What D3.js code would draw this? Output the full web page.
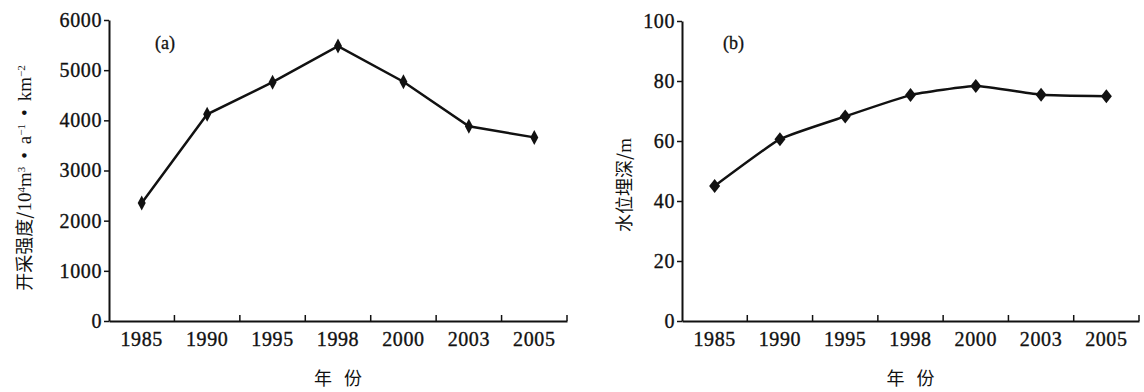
<!DOCTYPE html>
<html>
<head>
<meta charset="utf-8">
<script src="https://cdn.jsdelivr.net/npm/d3@7"></script>
<style>
  body { margin: 0; background: #fff; }
</style>
</head>
<body>
<svg id="chart" width="1144" height="392"></svg>
<script>
// data
var years = ["1985", "1990", "1995", "1998", "2000", "2003", "2005"];
var intensity = [2350, 4120, 4760, 5480, 4770, 3880, 3660];   // 开采强度
var depth = [45, 60.6, 68.2, 75.3, 78.3, 75.4, 74.9];          // 水位埋深
var intensityTicks = [0, 1000, 2000, 3000, 4000, 5000, 6000];
var depthTicks = [0, 20, 40, 60, 80, 100];

var svg = d3.select("#chart");
var serif = '"Liberation Serif", "DejaVu Serif", serif';
var cjk = '"Noto Sans CJK SC", sans-serif';

function styleNums(sel) {
    sel.attr("fill", "#111")
        .attr("stroke", "#111")
        .attr("stroke-width", 0.35)
        .style("font-size", "20px")
        .style("letter-spacing", "0.6px")
        .style("font-family", serif);
}

function drawPanel(p) {
    var x = d3.scaleBand().domain(years).range([p.left, p.right]);
    var y = d3.scaleLinear().domain([0, p.max]).range([p.bottom, p.top]);
    var g = svg.append("g");

    // y axis
    var yAxis = g.append("g")
        .attr("transform", "translate(" + p.left + ",0)")
        .call(d3.axisLeft(y).tickValues(p.ticks).tickFormat(d3.format("d"))
            .tickSize(5).tickPadding(2).tickSizeOuter(0));
    yAxis.select(".domain").attr("stroke", "#111").attr("stroke-width", 2);
    yAxis.selectAll(".tick line").attr("stroke", "#111").attr("stroke-width", 1.5);
    styleNums(yAxis.selectAll(".tick text"));

    // x axis: labels centred on bands, ticks at band edges pointing up
    var xAxis = g.append("g")
        .attr("transform", "translate(0," + p.bottom + ")")
        .call(d3.axisBottom(x).tickSize(0).tickPadding(11));
    xAxis.select(".domain").attr("stroke", "#111").attr("stroke-width", 2);
    styleNums(xAxis.selectAll(".tick text"));
    xAxis.selectAll("line.edge")
        .data(years).enter()
        .append("line")
        .attr("class", "edge")
        .attr("x1", function(d) { return x(d) + x.bandwidth(); })
        .attr("x2", function(d) { return x(d) + x.bandwidth(); })
        .attr("y1", 0)
        .attr("y2", -6)
        .attr("stroke", "#111")
        .attr("stroke-width", 1.5);

    // line
    var line = d3.line()
        .x(function(d, i) { return x(years[i]) + x.bandwidth() / 2; })
        .y(function(d) { return y(d); })
        .curve(p.curve);
    g.append("path")
        .datum(p.values)
        .attr("d", line)
        .attr("fill", "none")
        .attr("stroke", "#111")
        .attr("stroke-width", 2.5);

    // diamond markers
    var w = p.markW, h = p.markH;
    g.selectAll("path.mark")
        .data(p.values).enter()
        .append("path")
        .attr("class", "mark")
        .attr("d", "M0," + (-h) + "L" + w + ",0L0," + h + "L" + (-w) + ",0Z")
        .attr("transform", function(d, i) {
            return "translate(" + (x(years[i]) + x.bandwidth() / 2) + "," + y(d) + ")";
        })
        .attr("fill", "#111");

    // panel tag
    g.append("text")
        .attr("x", p.tagX)
        .attr("y", 49)
        .style("font-family", serif)
        .style("font-size", "18px")
        .attr("fill", "#111")
        .attr("stroke", "#111")
        .attr("stroke-width", 0.3)
        .text(p.tag);

    // x title
    g.append("text")
        .attr("x", (p.left + p.right) / 2 + 6)
        .attr("y", 385)
        .attr("text-anchor", "middle")
        .style("font-family", cjk)
        .style("font-size", "18px")
        .style("letter-spacing", "12px")
        .attr("fill", "#111")
        .text("年份");

    // y title
    var yt = g.append("text")
        .attr("transform", "translate(" + p.titleX + "," + p.titleY + ") rotate(-90)")
        .attr("text-anchor", "middle")
        .style("font-family", cjk)
        .style("font-size", "18px")
        .attr("fill", "#111");
    p.title.forEach(function(part) {
        var t = yt.append("tspan").text(part.t);
        if (part.serif) t.style("font-family", serif).style("font-size", "19px");
        if (part.sup) t.attr("baseline-shift", "super").style("font-size", "11px");
        if (part.dx) t.attr("dx", part.dx);
    });
}

drawPanel({
    left: 109, right: 567, top: 20, bottom: 321, max: 6000,
    ticks: intensityTicks, values: intensity, curve: d3.curveLinear,
    markW: 4, markH: 7.5, tag: "(a)", tagX: 155,
    titleX: 31, titleY: 178,
    title: [
        {t: "开采强度/"},
        {t: "10", serif: true}, {t: "4", sup: true, serif: true},
        {t: "m", serif: true}, {t: "3", sup: true, serif: true},
        {t: "•", serif: true, dx: 8}, {t: "a", serif: true, dx: 8},
        {t: "−1", sup: true, serif: true},
        {t: "•", serif: true, dx: 8}, {t: "km", serif: true, dx: 8},
        {t: "−2", sup: true, serif: true}
    ]
});

drawPanel({
    left: 682, right: 1139, top: 21, bottom: 321, max: 100,
    ticks: depthTicks, values: depth, curve: d3.curveCardinal.tension(0.6),
    markW: 5.5, markH: 7, tag: "(b)", tagX: 723,
    titleX: 631, titleY: 185,
    title: [
        {t: "水位埋深/"},
        {t: "m", serif: true}
    ]
});
</script>
</body>
</html>
